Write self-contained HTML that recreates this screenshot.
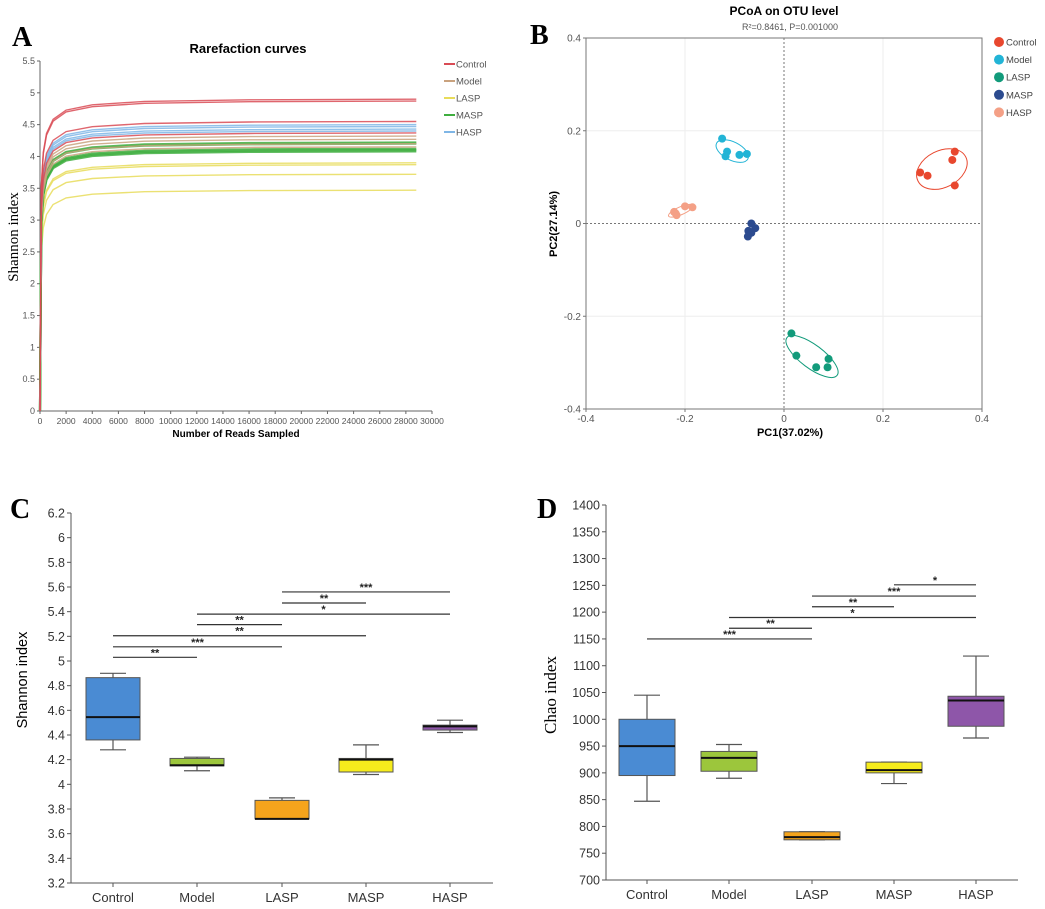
<!DOCTYPE html>
<html><head><meta charset="utf-8"><style>
body{margin:0;background:#fff;}
svg{display:block;font-family:"Liberation Sans",sans-serif;}
</style></head><body>
<svg id="fig" width="1045" height="909" viewBox="0 0 1045 909" xmlns="http://www.w3.org/2000/svg">
<rect width="1045" height="909" fill="#fff"/>
<g id="pA"></g>
<g id="pB"></g>
<g id="pC"></g>
<g id="pD"></g>
</svg>
<script>
// ---------- Panel A data ----------
const rareGroups = ["Control","Model","LASP","MASP","HASP"];
const rareColors = ["#d94b55","#c9a27e","#e8dc5a","#3fae3f","#7fb6e6"];
const rareX = [0,100,250,500,1000,2000,4000,8000,16000,28800];
const rareShape = [0,0.72,0.83,0.89,0.935,0.965,0.982,0.993,0.998,1];
const rareFinalControl = [4.9,4.87,4.55,4.37];
const rareFinalModel = [4.32,4.27,4.2,4.15];
const rareFinalLASP = [3.9,3.87,3.72,3.47];
const rareFinalMASP = [4.22,4.2,4.12,4.1,4.08];
const rareFinalHASP = [4.5,4.47,4.43,4.4];
const rareXTicks = [0,2000,4000,6000,8000,10000,12000,14000,16000,18000,20000,22000,24000,26000,28000,30000];
const rareYTicks = [0,0.5,1,1.5,2,2.5,3,3.5,4,4.5,5,5.5];
// ---------- Panel B data ----------
const pcoaGroups = ["Control","Model","LASP","MASP","HASP"];
const pcoaColors = ["#e8472e","#22b4d6","#129b7b","#2c4b8f","#f4a086"];
const pcoaControl = [[0.345,0.155],[0.34,0.137],[0.275,0.11],[0.29,0.103],[0.345,0.082]];
const pcoaModel = [[-0.125,0.183],[-0.115,0.155],[-0.118,0.145],[-0.09,0.148],[-0.075,0.15]];
const pcoaLASP = [[0.015,-0.237],[0.025,-0.285],[0.065,-0.31],[0.09,-0.292],[0.088,-0.31]];
const pcoaMASP = [[-0.066,0],[-0.072,-0.016],[-0.058,-0.01],[-0.066,-0.02],[-0.073,-0.028]];
const pcoaHASP = [[-0.222,0.025],[-0.217,0.018],[-0.2,0.037],[-0.185,0.035],[-0.219,0.022]];
const pcoaTicks = [-0.4,-0.2,0,0.2,0.4];
// ---------- Panel C/D data ----------
const boxCats = ["Control","Model","LASP","MASP","HASP"];
const boxColors = ["#4a8bd3","#9cc63c","#f5a41c","#f6ec1c","#8e56a9"];
const shMin = [4.28,4.11,3.72,4.08,4.42];
const shQ1 = [4.36,4.15,3.72,4.1,4.44];
const shMed = [4.545,4.155,3.72,4.2,4.47];
const shQ3 = [4.865,4.21,3.87,4.21,4.48];
const shMax = [4.9,4.22,3.89,4.32,4.52];
const shTicks = [3.2,3.4,3.6,3.8,4,4.2,4.4,4.6,4.8,5,5.2,5.4,5.6,5.8,6,6.2];
const shSig = [[0,1,5.03,"**"],[0,2,5.115,"***"],[0,3,5.205,"**"],[1,2,5.295,"**"],[1,4,5.38,"*"],[2,3,5.47,"**"],[2,4,5.56,"***"]];
const chMin = [847,890,775,880,965];
const chQ1 = [895,903,775,900,987];
const chMed = [950,928,780,905,1035];
const chQ3 = [1000,940,790,920,1043];
const chMax = [1045,953,790,920,1118];
const chTicks = [700,750,800,850,900,950,1000,1050,1100,1150,1200,1250,1300,1350,1400];
const chSig = [[0,2,1150,"***"],[1,2,1170,"**"],[1,4,1190,"*"],[2,3,1210,"**"],[2,4,1230,"***"],[3,4,1251,"*"]];

const NS="http://www.w3.org/2000/svg";
function mk(parent,tag,attrs,text){const e=document.createElementNS(NS,tag);for(const k in attrs)e.setAttribute(k,attrs[k]);if(text!==undefined)e.textContent=text;parent.appendChild(e);return e;}

// ===== Panel A =====
(function(){
const g=document.getElementById('pA');
const X=v=>40+(v/30000)*392, Y=v=>411-(v/5.5)*350;
let t;
t=mk(g,'text',{x:12,y:46,'font-family':'Liberation Serif,serif','font-weight':'bold','font-size':28},'A');

t=mk(g,'text',{x:248,y:53,'text-anchor':'middle','font-weight':'bold','font-size':13},'Rarefaction curves');

const ax=mk(g,'path',{d:`M${X(0)},${Y(5.5)}V${Y(0)}H${X(30000)}`,stroke:'#666',fill:'none','stroke-width':1});

rareYTicks.forEach(v=>{mk(g,'line',{x1:X(0)-3,x2:X(0),y1:Y(v),y2:Y(v),stroke:'#666'});
 const l=mk(g,'text',{x:X(0)-5,y:Y(v)+3,'text-anchor':'end','font-size':9,fill:'#555'},String(v));
 });
rareXTicks.forEach(v=>{mk(g,'line',{x1:X(v),x2:X(v),y1:Y(0),y2:Y(0)+3,stroke:'#666'});
 const l=mk(g,'text',{x:X(v),y:Y(0)+13,'text-anchor':'middle','font-size':8.5,fill:'#555'},String(v));
 });
t=mk(g,'text',{x:236,y:437,'text-anchor':'middle','font-weight':'bold','font-size':10},'Number of Reads Sampled');

t=mk(g,'text',{transform:'translate(18,237) rotate(-90)','text-anchor':'middle','font-family':'Liberation Serif,serif','font-size':15},'Shannon index');

const finals=[rareFinalControl,rareFinalModel,rareFinalLASP,rareFinalMASP,rareFinalHASP];
const order=[2,3,1,4,0];
order.forEach(gi=>{finals[gi].forEach(f=>{
 const d=rareX.map((x,i)=>(i?'L':'M')+X(x).toFixed(1)+','+Y(f*rareShape[i]).toFixed(1)).join('');
 const p=mk(g,'path',{d:d,stroke:rareColors[gi],fill:'none','stroke-width':gi==3?2.2:1.4,'stroke-opacity':0.85});
 });});
rareGroups.forEach((n,i)=>{const y=64+i*17;
 const l=mk(g,'line',{x1:444,x2:455,y1:y,y2:y,stroke:rareColors[i],'stroke-width':2});
 
 const tx=mk(g,'text',{x:456,y:y+3.5,'font-size':9.5,fill:'#555'},n);
 });
})();

// ===== Panel B =====
(function(){
const g=document.getElementById('pB');
const X=v=>586+(v+0.4)/0.8*396, Y=v=>409-(v+0.4)/0.8*371;
let t;
t=mk(g,'text',{x:530,y:44,'font-family':'Liberation Serif,serif','font-weight':'bold','font-size':28},'B');

t=mk(g,'text',{x:784,y:15,'text-anchor':'middle','font-weight':'bold','font-size':12},'PCoA on OTU level');

t=mk(g,'text',{x:790,y:30,'text-anchor':'middle','font-size':9,fill:'#555'},'R²=0.8461, P=0.001000');

[-0.2,0.2].forEach(v=>{mk(g,'line',{x1:X(v),x2:X(v),y1:Y(0.4),y2:Y(-0.4),stroke:'#eee'});mk(g,'line',{x1:X(-0.4),x2:X(0.4),y1:Y(v),y2:Y(v),stroke:'#eee'});});
const fr=mk(g,'rect',{x:X(-0.4),y:Y(0.4),width:X(0.4)-X(-0.4),height:Y(-0.4)-Y(0.4),fill:'none',stroke:'#777'});

mk(g,'line',{x1:X(0),x2:X(0),y1:Y(0.4),y2:Y(-0.4),stroke:'#777','stroke-dasharray':'2,2'});
mk(g,'line',{x1:X(-0.4),x2:X(0.4),y1:Y(0),y2:Y(0),stroke:'#777','stroke-dasharray':'2,2'});
pcoaTicks.forEach(v=>{
 mk(g,'line',{x1:X(v),x2:X(v),y1:Y(-0.4),y2:Y(-0.4)+3,stroke:'#777'});
 const a=mk(g,'text',{x:X(v),y:Y(-0.4)+13,'text-anchor':'middle','font-size':10,fill:'#555'},String(v));
 
 mk(g,'line',{x1:X(-0.4)-3,x2:X(-0.4),y1:Y(v),y2:Y(v),stroke:'#777'});
 const b=mk(g,'text',{x:X(-0.4)-5,y:Y(v)+3.5,'text-anchor':'end','font-size':10,fill:'#555'},String(v));
 });
t=mk(g,'text',{x:790,y:436,'text-anchor':'middle','font-weight':'bold','font-size':11},'PC1(37.02%)');

t=mk(g,'text',{transform:'translate(557,224) rotate(-90)','text-anchor':'middle','font-weight':'bold','font-size':11},'PC2(27.14%)');

const sets=[pcoaControl,pcoaModel,pcoaLASP,pcoaMASP,pcoaHASP];
sets.forEach((pts,gi)=>{
 const px=pts.map(p=>[X(p[0]),Y(p[1])]);const n=px.length;
 const mx=px.reduce((s,p)=>s+p[0],0)/n,my=px.reduce((s,p)=>s+p[1],0)/n;
 let sxx=0,syy=0,sxy=0;px.forEach(p=>{sxx+=(p[0]-mx)**2;syy+=(p[1]-my)**2;sxy+=(p[0]-mx)*(p[1]-my);});
 sxx/=n-1;syy/=n-1;sxy/=n-1;
 const tr=(sxx+syy)/2,det=Math.sqrt(((sxx-syy)/2)**2+sxy*sxy);
 const l1=tr+det,l2=Math.max(tr-det,0.5);const ang=Math.atan2(l1-sxx,sxy||1e-9)*180/Math.PI;
 const k=1.45;
 if(gi!==3){const e=mk(g,'ellipse',{cx:mx,cy:my,rx:k*Math.sqrt(l1)+1,ry:k*Math.sqrt(l2)+1,fill:'none',stroke:pcoaColors[gi],'stroke-width':1,transform:`rotate(${ang},${mx},${my})`});
 }
 px.forEach(p=>{const c=mk(g,'circle',{cx:p[0],cy:p[1],r:4,fill:pcoaColors[gi]});
 });
});
pcoaGroups.forEach((nm,i)=>{const y=42+i*17.6;
 const c=mk(g,'circle',{cx:999,cy:y,r:5,fill:pcoaColors[i]});
 
 const tx=mk(g,'text',{x:1006,y:y+3.5,'font-size':9.5,fill:'#444'},nm);
 });
})();

// ===== Box panels =====
function boxPanel(id,letter,lx,ax0,axR,yTop,yBot,vMin,vMax,ticks,cx,hw,mins,q1,med,q3,maxs,sig,ytitle,ytx,yty,ySerif){
const g=document.getElementById(id);
const Y=v=>yBot-(v-vMin)/(vMax-vMin)*(yBot-yTop);
let t=mk(g,'text',{x:lx,y:518,'font-family':'Liberation Serif,serif','font-weight':'bold','font-size':28},letter);

const ax=mk(g,'path',{d:`M${ax0},${yTop}V${yBot}H${axR}`,stroke:'#555',fill:'none'});

ticks.forEach(v=>{mk(g,'line',{x1:ax0-4,x2:ax0,y1:Y(v),y2:Y(v),stroke:'#555'});
 const l=mk(g,'text',{x:ax0-6,y:Y(v)+4.5,'text-anchor':'end','font-size':12.5,fill:'#333'},String(v));
 });
t=mk(g,'text',{transform:`translate(${ytx},${yty}) rotate(-90)`,'text-anchor':'middle','font-family':ySerif?'Liberation Serif,serif':'Liberation Sans,sans-serif','font-size':ySerif?17:14.5},ytitle);

boxCats.forEach((c,i)=>{const x=cx[i];
 mk(g,'line',{x1:x,x2:x,y1:yBot,y2:yBot+4,stroke:'#555'});
 const l=mk(g,'text',{x:x,y:yBot+19,'text-anchor':'middle','font-size':13,fill:'#333'},c);
 
 const w=mk(g,'path',{d:`M${x},${Y(maxs[i])}V${Y(q3[i])}M${x},${Y(q1[i])}V${Y(mins[i])}M${x-13},${Y(maxs[i])}H${x+13}M${x-13},${Y(mins[i])}H${x+13}`,stroke:'#555',fill:'none','stroke-width':1.2});
 
 const r=mk(g,'rect',{x:x-hw,y:Y(q3[i]),width:2*hw,height:Math.max(Y(q1[i])-Y(q3[i]),1),fill:boxColors[i],stroke:'#555','stroke-width':1});
 
 const m=mk(g,'line',{x1:x-hw,x2:x+hw,y1:Y(med[i]),y2:Y(med[i]),stroke:'#111','stroke-width':2});
 });
sig.forEach(s=>{const x1=cx[s[0]],x2=cx[s[1]],y=Y(s[2]);
 const l=mk(g,'line',{x1:x1,x2:x2,y1:y,y2:y,stroke:'#333','stroke-width':1.2});
 
 const tx=mk(g,'text',{x:(x1+x2)/2,y:y-1,'text-anchor':'middle','font-size':11,'font-weight':'bold',fill:'#222'},s[3]);
 });
}
boxPanel('pC','C',10,71,493,513,883,3.2,6.2,shTicks,[113,197,282,366,450],27,shMin,shQ1,shMed,shQ3,shMax,shSig,'Shannon index',27,680,false);
boxPanel('pD','D',537,606,1018,505,880,700,1400,chTicks,[647,729,812,894,976],28,chMin,chQ1,chMed,chQ3,chMax,chSig,'Chao index',556,695,true);
</script>
</body></html>
